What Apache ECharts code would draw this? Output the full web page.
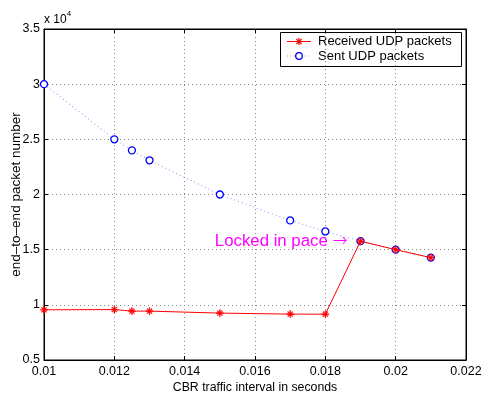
<!DOCTYPE html>
<html>
<head>
<meta charset="utf-8">
<script src="https://cdn.jsdelivr.net/npm/echarts@6/dist/echarts.min.js"></script>
<style>
  html, body { margin: 0; padding: 0; background: #fff; }
  #chart { width: 482px; height: 393px; }
</style>
</head>
<body>
<div id="chart"></div>
<script>
// CBR traffic interval (seconds)
const intervals = [0.010, 0.012, 0.0125, 0.013, 0.015, 0.017, 0.018, 0.019, 0.020, 0.021];
// Packets sent end-to-end
const sentPackets = [30000, 25000, 24000, 23100, 20000, 17650, 16650, 15770, 15000, 14280];
// Packets received end-to-end
const receivedPackets = [9550, 9570, 9430, 9430, 9250, 9160, 9150, 15770, 15000, 14280];
const xTicks = ['0.01', '0.012', '0.014', '0.016', '0.018', '0.02', '0.022'];
const yTicks = ['0.5', '1', '1.5', '2', '2.5', '3', '3.5'];
const seriesNames = ['Received UDP packets', 'Sent UDP packets'];
const annotation = 'Locked in pace';

const FONT = 'Liberation Sans, Arial, sans-serif';
const RED = '#ff0000';
const BLUE = '#0000ff';
const LIGHT_BLUE = '#9a9aff';
const asterisk = 'path://M4.4,0 L5.6,0 L5.6,10 L4.4,10 Z M0,4.4 L10,4.4 L10,5.6 L0,5.6 Z M1.2,2 L2,1.2 L8.8,8 L8,8.8 Z M1.2,8 L8,1.2 L8.8,2 L2,8.8 Z';

const chart = echarts.init(document.getElementById('chart'), null, { renderer: 'canvas' });

const gridLine = { show: true, lineStyle: { color: '#888', type: [1, 3], width: 1 } };
const tickStyle = { show: true, inside: true, length: 4, lineStyle: { color: '#000' } };

// Legend box drawn as graphics: line sample + marker + label per series
function legendGraphics(left, top) {
  const w = 181, h = 34, rowY = [9.5, 24];
  const g = [{
    type: 'rect', shape: { x: 0.5, y: 0.5, width: w, height: h },
    style: { fill: '#fff', stroke: '#000', lineWidth: 1 }
  }];
  const sx = 19, r = 3.3, s = 3.5;
  // received: solid red line with asterisk
  g.push({ type: 'line', shape: { x1: 7, y1: rowY[0], x2: 31, y2: rowY[0] }, style: { stroke: RED, lineWidth: 1 } });
  [[0, -s, 0, s], [-s, 0, s, 0], [-s * 0.75, -s * 0.75, s * 0.75, s * 0.75], [-s * 0.75, s * 0.75, s * 0.75, -s * 0.75]].forEach(d => {
    g.push({ type: 'line', shape: { x1: sx + d[0], y1: rowY[0] + d[1], x2: sx + d[2], y2: rowY[0] + d[3] }, style: { stroke: RED, lineWidth: 1.3 } });
  });
  // sent: dotted light-blue line with open circle
  g.push({ type: 'line', shape: { x1: 7, y1: rowY[1], x2: 31, y2: rowY[1] }, style: { stroke: LIGHT_BLUE, lineWidth: 1.2, lineDash: [1, 2.5] } });
  g.push({ type: 'circle', shape: { cx: sx, cy: rowY[1], r: r }, style: { fill: '#fff', stroke: BLUE, lineWidth: 1.3 } });
  seriesNames.forEach((name, i) => {
    g.push({
      type: 'text', x: 38, y: rowY[i],
      style: { text: name, fontFamily: FONT, fontSize: 13, fill: '#000', verticalAlign: 'middle' }
    });
  });
  return { type: 'group', left: left, top: top, z: 100, children: g };
}

chart.setOption({
  animation: false,
  backgroundColor: '#fff',
  textStyle: { fontFamily: FONT },
  grid: {
    left: 44, right: 16, top: 29, bottom: 33,
    outerBoundsMode: 'none', containLabel: false,
    show: true, borderColor: '#000', borderWidth: 1
  },
  graphic: [{
    type: 'text', left: 44, top: 10,
    style: {
      text: '{b|x 10}{s|4}',
      rich: {
        b: { fontFamily: FONT, fontSize: 12, fill: '#000', verticalAlign: 'bottom' },
        s: { fontFamily: FONT, fontSize: 8, fill: '#000', verticalAlign: 'top', padding: [0, 0, 8, 0] }
      }
    }
  }, legendGraphics(280, 32)],
  xAxis: [{
    type: 'value', min: 0.01, max: 0.022, interval: 0.002,
    name: 'CBR traffic interval in seconds', nameLocation: 'middle', nameGap: 22,
    nameMoveOverlap: false,
    nameTextStyle: { fontFamily: FONT, fontSize: 12.3, color: '#000' },
    axisLine: { show: true, lineStyle: { color: '#000' } },
    axisTick: tickStyle,
    splitLine: gridLine,
    axisLabel: {
      fontFamily: FONT, fontSize: 12.5, color: '#000', margin: 5,
      formatter: (v) => xTicks[Math.round((v - 0.01) / 0.002)]
    }
  }, {
    type: 'value', position: 'top', min: 0.01, max: 0.022, interval: 0.002,
    axisLine: { show: true, lineStyle: { color: '#000' } },
    axisTick: tickStyle, axisLabel: { show: false }, splitLine: { show: false }
  }],
  yAxis: [{
    type: 'value', min: 5000, max: 35000, interval: 5000,
    name: 'end\u2013to\u2013end packet number', nameLocation: 'middle', nameGap: 21,
    nameMoveOverlap: false,
    nameTextStyle: { fontFamily: FONT, fontSize: 13.5, color: '#000' },
    axisLine: { show: true, lineStyle: { color: '#000' } },
    axisTick: tickStyle,
    splitLine: gridLine,
    axisLabel: {
      fontFamily: FONT, fontSize: 12.5, color: '#000', margin: 4,
      formatter: (v) => yTicks[Math.round((v - 5000) / 5000)]
    }
  }, {
    type: 'value', position: 'right', min: 5000, max: 35000, interval: 5000,
    axisLine: { show: true, lineStyle: { color: '#000' } },
    axisTick: tickStyle, axisLabel: { show: false }, splitLine: { show: false }
  }],
  series: [{
    name: seriesNames[1],
    type: 'line',
    data: intervals.map((x, i) => [x, sentPackets[i]]),
    symbol: 'circle', symbolSize: 7, showAllSymbol: true,
    lineStyle: { color: LIGHT_BLUE, width: 1.1, type: [1, 3] },
    itemStyle: { color: '#fff', borderColor: BLUE, borderWidth: 1.3 },
    z: 2,
    markPoint: {
      symbol: 'circle', symbolSize: 0,
      data: [{ coord: [intervals[7], sentPackets[7]] }],
      label: {
        show: true, position: 'left', distance: 13,
        formatter: '{t|' + annotation + ' }{a|\u2192}',
        rich: {
          t: { fontFamily: FONT, fontSize: 16.8, color: '#ff00ff' },
          a: { fontFamily: 'DejaVu Sans', fontWeight: 200, fontSize: 18, color: '#ff00ff' }
        }
      }
    }
  }, {
    name: seriesNames[0],
    type: 'line',
    data: intervals.map((x, i) => [x, receivedPackets[i]]),
    symbol: asterisk, symbolSize: 7, showAllSymbol: true,
    lineStyle: { color: RED, width: 1 },
    itemStyle: { color: RED, borderColor: RED, borderWidth: 0.5 },
    z: 3
  }]
});
</script>
</body>
</html>
